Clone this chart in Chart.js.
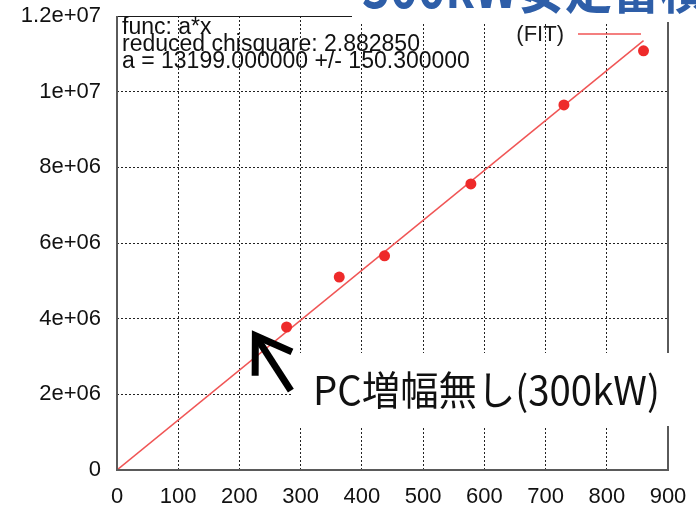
<!DOCTYPE html>
<html>
<head>
<meta charset="utf-8">
<script src="https://cdn.jsdelivr.net/npm/chart.js@4/dist/chart.umd.min.js"></script>
<style>
  html, body { margin: 0; padding: 0; background: #fff; }
  #wrap { width: 696px; height: 508px; }
</style>
</head>
<body>
<div id="wrap"><canvas id="c" width="696" height="508"></canvas></div>
<script>
// Measured stored charge vs. RF power, with linear fit y = a*x
const powerKW = [277, 363, 437, 578, 730, 860];
const charge  = [3.78e6, 5.10e6, 5.66e6, 7.56e6, 9.65e6, 11.08e6];
const fitSlope = 13199.0;
const fitInfo = [
  'func: a*x',
  'reduced chisquare: 2.882850',
  'a = 13199.000000 +/- 150.300000'
];
const yTickLabels = ['0', '2e+06', '4e+06', '6e+06', '8e+06', '1e+07', '1.2e+07'];
const xTickStep = 100;
const yTickStep = 2e6;
const fitLabel = '(FIT)';
const noteText = 'PC増幅無し(300kW)';
const titleText = '300kW安定蓄積';

const measured = powerKW.map((x, i) => ({ x: x, y: charge[i] }));
const fitLine = [
  { x: 0, y: 0 },
  { x: Math.max(...powerKW), y: fitSlope * Math.max(...powerKW) }
];

const FONT = "'Liberation Sans', Arial, sans-serif";
const CJK = "'Noto Sans CJK JP', 'Noto Sans', sans-serif";

// Draw text stretched/condensed horizontally to span a given width
function fitText(ctx, text, x, y, width) {
  const w = ctx.measureText(text).width;
  ctx.save();
  ctx.translate(x, y);
  ctx.scale(width / w, 1);
  ctx.fillText(text, 0, 0);
  ctx.restore();
}

const decorations = {
  id: 'decorations',
  afterDraw(chart) {
    const ctx = chart.ctx;
    const a = chart.chartArea;
    const xs = chart.scales.x, ys = chart.scales.y;

    // plot frame
    ctx.save();
    ctx.lineCap = 'butt';
    ctx.strokeStyle = '#1a1a1a';
    ctx.lineWidth = 1;
    ctx.beginPath();
    ctx.moveTo(a.left, a.top + 0.5);
    ctx.lineTo(a.right, a.top + 0.5);
    ctx.stroke();
    ctx.strokeStyle = '#5a5a5a';
    ctx.lineWidth = 2;
    ctx.beginPath();
    ctx.moveTo(a.left, a.top);
    ctx.lineTo(a.left, a.bottom);
    ctx.lineTo(a.right, a.bottom);
    ctx.lineTo(a.right, a.top);
    ctx.stroke();
    ctx.restore();

    // fit statistics
    ctx.save();
    ctx.fillStyle = '#111';
    ctx.font = '23px ' + FONT;
    ctx.textBaseline = 'alphabetic';
    fitInfo.forEach((t, i) => ctx.fillText(t, a.left + 5, a.top + 18 + i * 17));
    ctx.restore();

    // legend entry for the fit
    ctx.save();
    ctx.fillStyle = '#1a1a1a';
    ctx.font = '22px ' + FONT;
    ctx.textAlign = 'right';
    ctx.textBaseline = 'middle';
    ctx.fillText(fitLabel, a.right - 104, a.top + 19);
    ctx.strokeStyle = '#f05555';
    ctx.lineWidth = 1.5;
    ctx.beginPath();
    ctx.moveTo(a.right - 90, a.top + 18);
    ctx.lineTo(a.right - 27, a.top + 18);
    ctx.stroke();
    ctx.restore();

    // note box with arrow
    ctx.save();
    ctx.fillStyle = '#fff';
    ctx.fillRect(a.left + 176, a.bottom - 117, chart.width - a.left - 176, 73);
    ctx.fillStyle = '#111';
    ctx.font = '40px ' + CJK;
    ctx.textBaseline = 'middle';
    fitText(ctx, noteText, a.left + 196, a.bottom - 80, 347);

    const tipX = xs.getPixelForValue(226), tipY = ys.getPixelForValue(3.55e6);
    const tailX = xs.getPixelForValue(284), tailY = ys.getPixelForValue(2.10e6);
    const ang = Math.atan2(tailY - tipY, tailX - tipX);
    const wing = 40, spread = 0.58;
    ctx.strokeStyle = '#000';
    ctx.lineWidth = 7;
    ctx.lineCap = 'butt';
    ctx.lineJoin = 'miter';
    ctx.beginPath();
    ctx.moveTo(tailX, tailY);
    ctx.lineTo(tipX, tipY);
    ctx.stroke();
    ctx.beginPath();
    ctx.moveTo(tipX + wing * Math.cos(ang - spread), tipY + wing * Math.sin(ang - spread));
    ctx.lineTo(tipX, tipY);
    ctx.lineTo(tipX + wing * Math.cos(ang + spread), tipY + wing * Math.sin(ang + spread));
    ctx.stroke();
    ctx.restore();

    // heading strip at the top
    ctx.save();
    ctx.fillStyle = '#fff';
    ctx.fillRect(352, 0, chart.width - 352, a.top + 6);
    ctx.fillStyle = '#2e5ea8';
    ctx.font = 'bold 56px ' + CJK;
    ctx.textBaseline = 'alphabetic';
    fitText(ctx, titleText, 362, 8, 345);
    ctx.restore();
  }
};

const gridColor = (ctx, scale) => {
  const v = ctx.tick ? ctx.tick.value : null;
  if (v === null || v === scale.min || v === scale.max) return 'rgba(0,0,0,0)';
  return '#222';
};

new Chart(document.getElementById('c'), {
  type: 'scatter',
  data: {
    datasets: [
      {
        label: 'data',
        data: measured,
        backgroundColor: '#ee2a2a',
        borderColor: '#ee2a2a',
        pointRadius: 5.5,
        pointBorderWidth: 0,
        showLine: false
      },
      {
        label: fitLabel,
        type: 'line',
        data: fitLine,
        borderColor: '#f05555',
        borderWidth: 1.5,
        pointRadius: 0,
        fill: false,
        tension: 0
      }
    ]
  },
  options: {
    responsive: false,
    animation: false,
    devicePixelRatio: 1,
    layout: { padding: { top: 16, right: 28, left: 0, bottom: 0 } },
    plugins: { legend: { display: false }, tooltip: { enabled: false } },
    scales: {
      x: {
        type: 'linear',
        min: 0, max: 900,
        afterFit(s) { s.height = 38; s.paddingLeft = 0; s.paddingRight = 0; },
        ticks: {
          stepSize: xTickStep,
          color: '#111',
          font: { family: FONT, size: 22 },
          padding: 14,
          maxRotation: 0
        },
        grid: {
          drawTicks: false,
          color: (c) => gridColor(c, { min: 0, max: 900 }),
          lineWidth: 1
        },
        border: { display: false, dash: [2, 2] }
      },
      y: {
        type: 'linear',
        min: 0, max: 1.2e7,
        afterFit(s) { s.width = 117; s.paddingTop = 0; s.paddingBottom = 0; },
        ticks: {
          stepSize: yTickStep,
          color: '#111',
          font: { family: FONT, size: 22 },
          padding: 16,
          callback: (v) => yTickLabels[Math.round(v / yTickStep)]
        },
        grid: {
          drawTicks: false,
          color: (c) => gridColor(c, { min: 0, max: 1.2e7 }),
          lineWidth: 1
        },
        border: { display: false, dash: [2, 2] }
      }
    }
  },
  plugins: [decorations]
});
</script>
</body>
</html>
